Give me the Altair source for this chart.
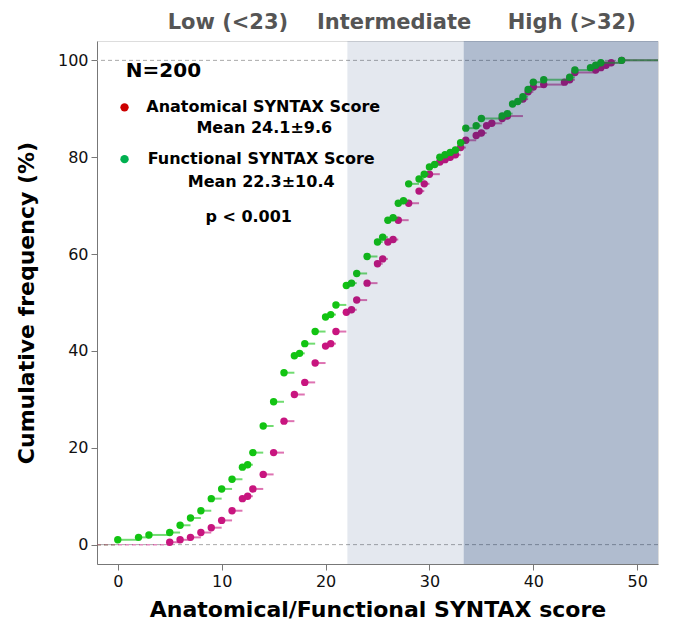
import altair as alt
import pandas as pd

# Functional SYNTAX score (green) cumulative distribution
func_x = [0, 2, 3, 5, 6, 7, 8, 9, 10, 11, 12, 12.5, 13, 14, 15, 16, 17, 17.5, 18, 19,
          20, 20.5, 21, 22, 22.5, 23, 24, 25, 25.5, 26, 26.5, 27, 27.5, 28, 29, 29.5,
          30, 30.5, 31, 31.5, 32, 32.5, 33, 33.5, 34.5, 35, 37, 37.5, 38, 38.5, 39,
          39.5, 40, 41, 43.5, 44, 45.5, 46, 46.5, 48.5]
func_y = [1.0, 1.5, 2.0, 2.5, 4.0, 5.5, 7.0, 9.5, 11.5, 13.5, 16.0, 16.5, 19.0, 24.5,
          29.5, 35.5, 39.0, 39.5, 41.5, 44.0, 47.0, 47.5, 49.5, 53.5, 54.0, 56.0, 59.5,
          62.5, 63.5, 67.0, 67.5, 70.5, 71.0, 74.5, 75.5, 76.5, 78.0, 78.5, 80.0, 80.5,
          81.0, 81.5, 83.0, 86.0, 86.5, 88.0, 88.5, 89.0, 91.0, 91.5, 92.5, 94.0, 95.5,
          96.0, 96.5, 98.0, 98.5, 99.0, 99.5, 100.0]

# Anatomical SYNTAX score (magenta) cumulative distribution
anat_x = [5, 6, 7, 8, 9, 10, 11, 12, 12.5, 13, 14, 15, 16, 17, 18, 19, 20, 20.5, 21,
          22, 22.5, 23, 24, 25, 25.5, 26, 26.5, 27, 28, 29, 29.5, 30, 31, 31.5, 32,
          32.5, 33, 33.5, 34.5, 35, 35.5, 36, 37, 37.5, 39, 39.5, 40, 41, 43, 43.5,
          44, 46, 46.5, 47, 47.5, 48.5]
anat_y = [0.5, 1.0, 1.5, 2.5, 3.5, 5.0, 7.0, 9.5, 10.0, 11.5, 14.5, 19.0, 25.5, 31.0,
          33.5, 37.5, 41.0, 41.5, 44.0, 48.0, 48.5, 50.5, 54.0, 58.0, 59.0, 62.5, 63.0,
          67.0, 70.5, 73.0, 74.5, 76.5, 79.0, 79.5, 80.0, 80.5, 82.0, 83.5, 84.5, 85.0,
          86.5, 87.0, 88.0, 88.5, 92.0, 93.5, 94.5, 95.0, 95.5, 96.0, 97.5, 98.0, 98.5,
          99.0, 99.5, 100.0]

x_ticks = [0, 10, 20, 30, 40, 50]
y_ticks = [0, 20, 40, 60, 80, 100]

XMIN, XMAX = -2, 52
YMIN, YMAX = -4, 104

band_start = [22.1, 33.3]
band_end = [33.3, XMAX]
band_opacity = [0.11, 0.32]

zone_labels = ["Low (<23)", "Intermediate", "High (>32)"]
zone_x = [10.6, 26.6, 43.7]

ann_text = ["Anatomical SYNTAX Score", "Mean 24.1±9.6", "Functional SYNTAX Score",
            "Mean 22.3±10.4", "p < 0.001"]
ann_x = [14.0, 14.1, 13.8, 13.8, 12.6]
ann_y = [90.3, 86.0, 79.6, 74.8, 67.6]

FONT = "DejaVu Sans"
GREEN = "#12c412"
PINK = "#c8157f"
W, H = 561, 523

xs = alt.Scale(domain=[XMIN, XMAX], nice=False, zero=False)
ys = alt.Scale(domain=[YMIN, YMAX], nice=False, zero=False)


def steps(xv, yv):
    df = pd.DataFrame({"x": xv, "y": yv})
    df["x2"] = df["x"].shift(-1).fillna(XMAX)
    return df


fdf = steps(func_x, func_y)
adf = steps(anat_x, anat_y)

X = alt.X("x:Q", scale=xs, axis=alt.Axis(values=x_ticks, grid=False, labelFontSize=16,
                                         title="Anatomical/Functional SYNTAX score",
                                         titleFontSize=22, titleFont=FONT, titleFontWeight="bold",
                                         labelFont=FONT, tickSize=6, labelPadding=3,
                                         titlePadding=10, domainColor="#777", tickColor="#777",
                                         labelColor="#111", titleColor="#000"))
Y = alt.Y("y:Q", scale=ys, axis=alt.Axis(values=y_ticks, grid=False, labelFontSize=16,
                                         title="Cumulative frequency (%)",
                                         titleFontSize=22, titleFont=FONT, titleFontWeight="bold",
                                         labelFont=FONT, tickSize=6, labelPadding=3,
                                         titlePadding=19, domainColor="#777", tickColor="#777",
                                         labelColor="#111", titleColor="#000"))

grid = alt.Chart(pd.DataFrame({"y": [0, 100]})).mark_rule(
    color="#aaaaaa", strokeDash=[4, 3], strokeWidth=1).encode(y=alt.Y("y:Q", scale=ys))

base0 = pd.DataFrame({"x": [XMIN, XMIN], "x2": [func_x[0], anat_x[0]], "y": [0, 0],
                      "s": ["f", "a"]})
base_rule = alt.Chart(base0).mark_rule(strokeDash=[4, 3], strokeWidth=1.5, opacity=0.5).encode(
    x=alt.X("x:Q", scale=xs), x2="x2:Q", y=alt.Y("y:Q", scale=ys),
    color=alt.Color("s:N", scale=alt.Scale(domain=["f", "a"], range=[GREEN, PINK]), legend=None))

a_seg = alt.Chart(adf).mark_rule(color=PINK, strokeWidth=2, opacity=0.6).encode(
    x=alt.X("x:Q", scale=xs), x2="x2:Q", y=alt.Y("y:Q", scale=ys))
a_pts = alt.Chart(adf).mark_circle(color=PINK, size=55, opacity=1).encode(x=X, y=Y)
f_seg = alt.Chart(fdf).mark_rule(color=GREEN, strokeWidth=2, opacity=0.6).encode(
    x=alt.X("x:Q", scale=xs), x2="x2:Q", y=alt.Y("y:Q", scale=ys))
f_pts = alt.Chart(fdf).mark_circle(color=GREEN, size=55, opacity=1).encode(x=X, y=Y)

bands = alt.Chart(pd.DataFrame({"x": band_start, "x2": band_end, "o": band_opacity})).mark_rect(
    color="#082e6a").encode(
    x=alt.X("x:Q", scale=xs), x2="x2:Q", y=alt.value(0), y2=alt.value(H),
    opacity=alt.Opacity("o:Q", scale=None))

zones = alt.Chart(pd.DataFrame({"x": zone_x, "t": zone_labels})).mark_text(
    font=FONT, fontSize=21, fontWeight="bold", color="#555555", baseline="middle").encode(
    x=alt.X("x:Q", scale=xs), y=alt.value(-18), text="t:N")

n_txt = alt.Chart(pd.DataFrame({"x": [4.4], "y": [97.8], "t": ["N=200"]})).mark_text(
    font=FONT, fontSize=20, fontWeight="bold", color="#000", baseline="middle").encode(
    x=alt.X("x:Q", scale=xs), y=alt.Y("y:Q", scale=ys), text="t:N")

anns = alt.Chart(pd.DataFrame({"x": ann_x, "y": ann_y, "t": ann_text})).mark_text(
    font=FONT, fontSize=16, fontWeight="bold", color="#000", baseline="middle").encode(
    x=alt.X("x:Q", scale=xs), y=alt.Y("y:Q", scale=ys), text="t:N")

dots = alt.Chart(pd.DataFrame({"x": [0.65, 0.65], "y": [90.3, 79.6], "s": ["a", "f"]})).mark_circle(
    size=70, opacity=1).encode(
    x=alt.X("x:Q", scale=xs), y=alt.Y("y:Q", scale=ys),
    color=alt.Color("s:N", scale=alt.Scale(domain=["a", "f"], range=["#cc0000", "#00b050"]),
                    legend=None))

chart = alt.layer(grid, base_rule, a_seg, a_pts, f_seg, f_pts, bands, zones, n_txt, anns, dots).resolve_scale(
    color="independent").properties(
    width=W, height=H,
    autosize=alt.AutoSizeParams(type="none"),
    padding={"left": 89, "top": 33, "right": 29, "bottom": 69},
).configure_view(stroke="#777777", strokeWidth=1.5).configure(background="white")

chart.save("out.html", embed_options={"renderer": "svg", "actions": False})
